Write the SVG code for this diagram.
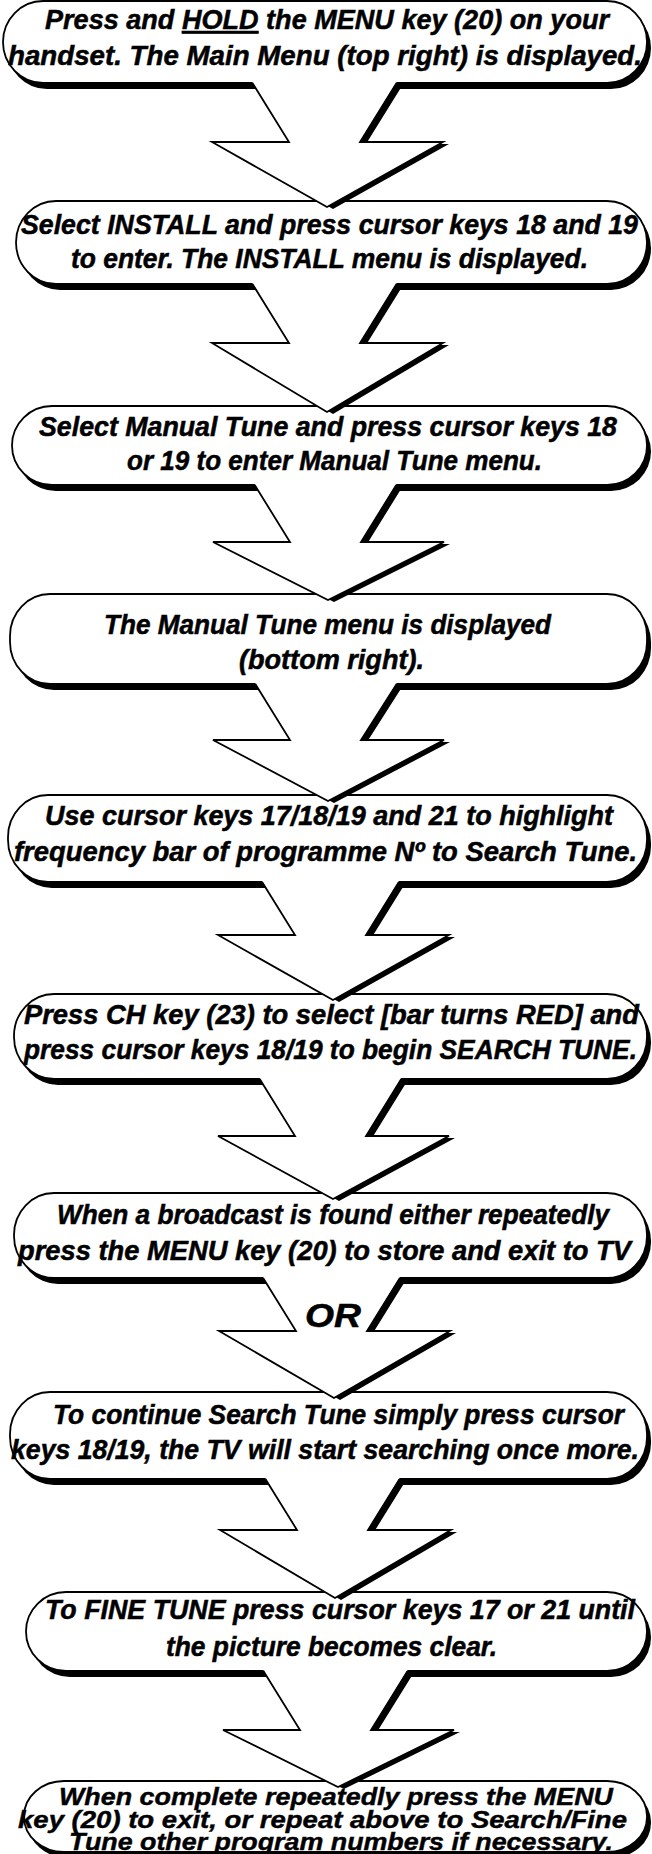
<svg xmlns="http://www.w3.org/2000/svg" width="652" height="1854" viewBox="0 0 652 1854">
  <style>
    .shadow { fill: #000; }
    .box { fill: #fff; stroke: #000; stroke-width: 1.8; }
    .arrow-fill { fill: #fff; stroke: none; }
    .arrow-edge { fill: none; stroke: #000; stroke-width: 1.8; stroke-linejoin: miter; }
    text { font-family: "Liberation Sans Narrow", "Liberation Sans", Arial, sans-serif; font-weight: bold; font-style: italic; font-size: 27px; fill: #000; stroke: #000; stroke-width: 0.5; }
    .small { font-size: 23px; stroke-width: 0.4; }
    .or { font-size: 33px; }
  </style>
  <rect width="652" height="1854" fill="#fff"/>

  <!-- step boxes: black offset shadow behind a white rounded panel -->
  <g id="step1">
    <rect class="shadow" x="7" y="7" width="644" height="82" rx="40" ry="42"/>
    <rect class="box" x="3" y="1" width="644" height="82" rx="40" ry="42"/>
    <text x="45" y="29" textLength="564" lengthAdjust="spacingAndGlyphs">Press and <tspan text-decoration="underline">HOLD</tspan> the MENU key (20) on your</text>
    <text x="8" y="65" textLength="634" lengthAdjust="spacingAndGlyphs">handset. The Main Menu (top right) is displayed.</text>
  </g>
  <g id="step2">
    <rect class="shadow" x="20" y="207" width="631" height="83" rx="40" ry="42"/>
    <rect class="box" x="16" y="201" width="631" height="83" rx="40" ry="42"/>
    <text x="21" y="234" textLength="617" lengthAdjust="spacingAndGlyphs">Select INSTALL and press cursor keys 18 and 19</text>
    <text x="71" y="268" textLength="517" lengthAdjust="spacingAndGlyphs">to enter. The INSTALL menu is displayed.</text>
  </g>
  <g id="step3">
    <rect class="shadow" x="16" y="412" width="635" height="79" rx="40" ry="42"/>
    <rect class="box" x="12" y="406" width="635" height="79" rx="40" ry="42"/>
    <text x="39" y="436" textLength="578" lengthAdjust="spacingAndGlyphs">Select Manual Tune and press cursor keys 18</text>
    <text x="127" y="470" textLength="415" lengthAdjust="spacingAndGlyphs">or 19 to enter Manual Tune menu.</text>
  </g>
  <g id="step4">
    <rect class="shadow" x="14" y="600" width="637" height="90" rx="40" ry="42"/>
    <rect class="box" x="10" y="594" width="637" height="90" rx="40" ry="42"/>
    <text x="104" y="634" textLength="447" lengthAdjust="spacingAndGlyphs">The Manual Tune menu is displayed</text>
    <text x="239" y="669" textLength="185" lengthAdjust="spacingAndGlyphs">(bottom right).</text>
  </g>
  <g id="step5">
    <rect class="shadow" x="12" y="801" width="639" height="87" rx="40" ry="42"/>
    <rect class="box" x="8" y="795" width="639" height="87" rx="40" ry="42"/>
    <text x="45" y="825" textLength="568" lengthAdjust="spacingAndGlyphs">Use cursor keys 17/18/19 and 21 to highlight</text>
    <text x="14" y="861" textLength="623" lengthAdjust="spacingAndGlyphs">frequency bar of programme Nº to Search Tune.</text>
  </g>
  <g id="step6">
    <rect class="shadow" x="18" y="1000" width="633" height="85" rx="40" ry="42"/>
    <rect class="box" x="14" y="994" width="633" height="85" rx="40" ry="42"/>
    <text x="24" y="1024" textLength="615" lengthAdjust="spacingAndGlyphs">Press CH key (23) to select [bar turns RED] and</text>
    <text x="24" y="1059" textLength="613" lengthAdjust="spacingAndGlyphs">press cursor keys 18/19 to begin SEARCH TUNE.</text>
  </g>
  <g id="step7">
    <rect class="shadow" x="18" y="1199" width="633" height="85" rx="40" ry="42"/>
    <rect class="box" x="14" y="1193" width="633" height="85" rx="40" ry="42"/>
    <text x="57" y="1224" textLength="552" lengthAdjust="spacingAndGlyphs">When a broadcast is found either repeatedly</text>
    <text x="18" y="1260" textLength="613" lengthAdjust="spacingAndGlyphs">press the MENU key (20) to store and exit to TV</text>
  </g>
  <g id="step8">
    <rect class="shadow" x="14" y="1398" width="637" height="87" rx="40" ry="42"/>
    <rect class="box" x="10" y="1392" width="637" height="87" rx="40" ry="42"/>
    <text x="53" y="1424" textLength="571" lengthAdjust="spacingAndGlyphs">To continue Search Tune simply press cursor</text>
    <text x="11" y="1459" textLength="628" lengthAdjust="spacingAndGlyphs">keys 18/19, the TV will start searching once more.</text>
  </g>
  <g id="step9">
    <rect class="shadow" x="30" y="1598" width="621" height="79" rx="40" ry="42"/>
    <rect class="box" x="26" y="1592" width="621" height="79" rx="40" ry="42"/>
    <text x="45" y="1619" textLength="590" lengthAdjust="spacingAndGlyphs">To FINE TUNE press cursor keys 17 or 21 until</text>
    <text x="166" y="1656" textLength="331" lengthAdjust="spacingAndGlyphs">the picture becomes clear.</text>
  </g>
  <g id="step10">
    <rect class="shadow" x="28" y="1787" width="623" height="71" rx="40" ry="35"/>
    <rect class="box" x="24" y="1781" width="623" height="71" rx="40" ry="35"/>
    <text class="small" x="59" y="1805" textLength="554" lengthAdjust="spacingAndGlyphs">When complete repeatedly press the MENU</text>
    <text class="small" x="18" y="1828" textLength="609" lengthAdjust="spacingAndGlyphs">key (20) to exit, or repeat above to Search/Fine</text>
    <text class="small" x="69" y="1850" textLength="544" lengthAdjust="spacingAndGlyphs">Tune other program numbers if necessary.</text>
  </g>

  <!-- connectors: bent block arrows growing out of each panel's base -->
  <g id="connectors">
    <g id="arrow1">
      <polygon class="shadow" transform="translate(6 2)" points="252.4,83 289,142 212,142 327,207 443,142 360,142 396.6,83"/>
      <polygon class="arrow-fill" points="249.9,78 289,142 212,142 327,207 443,142 360,142 399.1,78"/>
      <polyline class="arrow-edge" points="252.4,83 289,142 212,142 327,207 443,142 360,142 396.6,83"/>
    </g>
    <g id="arrow2">
      <polygon class="shadow" transform="translate(6 2)" points="252.4,284 289,343 212,343 327,412 443,343 360,343 396.6,284"/>
      <polygon class="arrow-fill" points="249.9,279 289,343 212,343 327,412 443,343 360,343 399.1,279"/>
      <polyline class="arrow-edge" points="252.4,284 289,343 212,343 327,412 443,343 360,343 396.6,284"/>
    </g>
    <g id="arrow3">
      <polygon class="shadow" transform="translate(6 2)" points="254.7,485 290,542 213,542 328,600 444,542 361,542 396.3,485"/>
      <polygon class="arrow-fill" points="252.2,480 290,542 213,542 328,600 444,542 361,542 398.8,480"/>
      <polyline class="arrow-edge" points="254.7,485 290,542 213,542 328,600 444,542 361,542 396.3,485"/>
    </g>
    <g id="arrow4">
      <polygon class="shadow" transform="translate(6 2)" points="255.3,684 290,740 213,740 328,801 444,740 361,740 396.7,684"/>
      <polygon class="arrow-fill" points="252.8,679 290,740 213,740 328,801 444,740 361,740 399.2,679"/>
      <polyline class="arrow-edge" points="255.3,684 290,740 213,740 328,801 444,740 361,740 396.7,684"/>
    </g>
    <g id="arrow5">
      <polygon class="shadow" transform="translate(6 2)" points="262.1,882 295,935 218,935 333,1000 449,935 366,935 398.9,882"/>
      <polygon class="arrow-fill" points="259.6,877 295,935 218,935 333,1000 449,935 366,935 401.4,877"/>
      <polyline class="arrow-edge" points="262.1,882 295,935 218,935 333,1000 449,935 366,935 398.9,882"/>
    </g>
    <g id="arrow6">
      <polygon class="shadow" transform="translate(6 2)" points="259.7,1079 295,1136 218,1136 333,1199 449,1136 366,1136 401.3,1079"/>
      <polygon class="arrow-fill" points="257.2,1074 295,1136 218,1136 333,1199 449,1136 366,1136 403.8,1074"/>
      <polyline class="arrow-edge" points="259.7,1079 295,1136 218,1136 333,1199 449,1136 366,1136 401.3,1079"/>
    </g>
    <g id="arrow7">
      <polygon class="shadow" transform="translate(6 2)" points="263.1,1278 296,1331 219,1331 334,1398 450,1331 367,1331 399.9,1278"/>
      <polygon class="arrow-fill" points="260.6,1273 296,1331 219,1331 334,1398 450,1331 367,1331 402.4,1273"/>
      <polyline class="arrow-edge" points="263.1,1278 296,1331 219,1331 334,1398 450,1331 367,1331 399.9,1278"/>
      <text class="or" x="305" y="1327" textLength="56" lengthAdjust="spacingAndGlyphs">OR</text>
    </g>
    <g id="arrow8">
      <polygon class="shadow" transform="translate(6 2)" points="265.4,1479 297,1530 220,1530 335,1598 451,1530 368,1530 399.6,1479"/>
      <polygon class="arrow-fill" points="262.9,1474 297,1530 220,1530 335,1598 451,1530 368,1530 402.1,1474"/>
      <polyline class="arrow-edge" points="265.4,1479 297,1530 220,1530 335,1598 451,1530 368,1530 399.6,1479"/>
    </g>
    <g id="arrow9">
      <polygon class="shadow" transform="translate(6 2)" points="263.4,1671 300,1730 223,1730 338,1787 454,1730 371,1730 407.6,1671"/>
      <polygon class="arrow-fill" points="260.9,1666 300,1730 223,1730 338,1787 454,1730 371,1730 410.1,1666"/>
      <polyline class="arrow-edge" points="263.4,1671 300,1730 223,1730 338,1787 454,1730 371,1730 407.6,1671"/>
    </g>
  </g>
</svg>
